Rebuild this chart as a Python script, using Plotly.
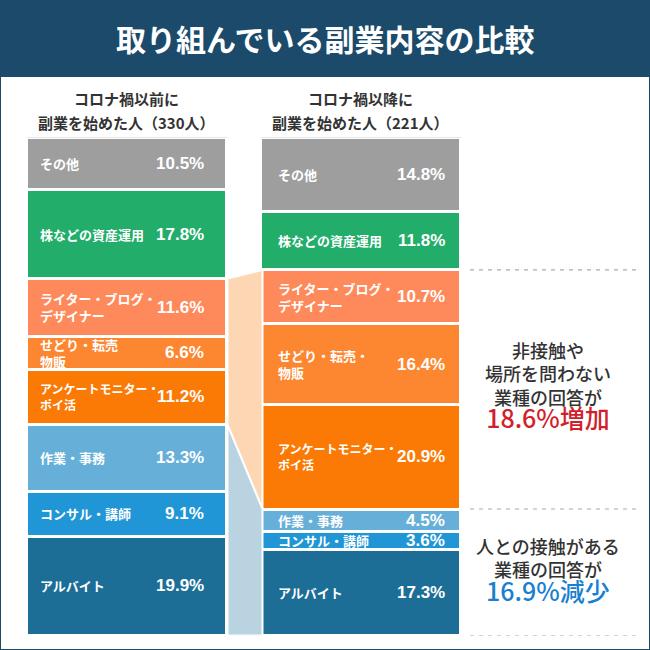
import plotly.graph_objects as go

W, H = 650, 650

categories = ["その他", "株などの資産運用", "ライター・ブログ・デザイナー", "せどり・転売・物販",
              "アンケートモニター・ポイ活", "作業・事務", "コンサル・講師", "アルバイト"]
labels_before = ["その他", "株などの資産運用", "ライター・ブログ・<br>デザイナー", "せどり・転売<br>物販",
                 "アンケートモニター・<br>ポイ活", "作業・事務", "コンサル・講師", "アルバイト"]
labels_after = ["その他", "株などの資産運用", "ライター・ブログ・<br>デザイナー", "せどり・転売・<br>物販",
                "アンケートモニター・<br>ポイ活", "作業・事務", "コンサル・講師", "アルバイト"]
before = [10.5, 17.8, 11.6, 6.6, 11.2, 13.3, 9.1, 19.9]
after = [14.8, 11.8, 10.7, 16.4, 20.9, 4.5, 3.6, 17.3]
colors = ["#9e9e9e", "#22ad6b", "#fe8a5b", "#fd8630", "#fb7a05", "#66afd9", "#2196d6", "#1c6e97"]

title = "取り組んでいる副業内容の比較"
head_before = ["コロナ禍以前に", "副業を始めた人（330人）"]
head_after = ["コロナ禍以降に", "副業を始めた人（221人）"]
note_up = ["非接触や", "場所を問わない", "業種の回答が"]
note_up_val = "18.6%増加"
note_down = ["人との接触がある", "業種の回答が"]
note_down_val = "16.9%減少"

grp_up = [2, 3, 4]
grp_down = [5, 6, 7]

BX1, BX2, BW = 126.5, 360.5, 200
LINE_W = 3
TOP_PX, BOT_PX = 137.5, 635.5

JP = "Noto Sans CJK JP"
NUM = "Liberation Sans, Noto Sans CJK JP"
label_sizes = [13, 13, 13, 13, 12, 13, 13, 13]


def cum(vals):
    out, s = [], 0.0
    for v in vals:
        out.append(s)
        s += v
    return out, s


cb, _ = cum(before)
ca, _ = cum(after)

fig = go.Figure()

bx_l, bx_r = BX1 + BW / 2 + 1, BX2 - BW / 2 + 2
for grp, col in [(grp_up, "#fdd7b4"), (grp_down, "#b9d3e1")]:
    lt = cb[grp[0]]
    lb = cb[grp[-1]] + before[grp[-1]]
    rt = ca[grp[0]]
    rb = ca[grp[-1]] + after[grp[-1]]
    fig.add_trace(go.Scatter(
        x=[bx_l, bx_r, bx_r, bx_l, bx_l], y=[lt, rt, rb, lb, lt],
        mode="lines", fill="toself", fillcolor=col,
        line=dict(color="white", width=2), hoverinfo="skip", showlegend=False))

for i, c in enumerate(categories):
    fig.add_trace(go.Bar(
        x=[BX1, BX2], y=[before[i], after[i]], width=[BW, BW],
        marker=dict(color=colors[i], line=dict(color="white", width=LINE_W)),
        name=c, hoverinfo="skip", showlegend=False))

ann = []


def pap(ypx):
    return 1 - ypx / H


for (vals, cs, labs, xl, xr) in [(before, cb, labels_before, 38, 206),
                                  (after, ca, labels_after, 276, 447)]:
    for i in range(len(vals)):
        ym = cs[i] + vals[i] / 2
        ann.append(dict(x=xl, y=ym, xref="x", yref="y", text="<b>%s</b>" % labs[i],
                        showarrow=False, xanchor="left", yanchor="middle", align="left",
                        font=dict(family=JP, size=label_sizes[i], color="white")))
        ann.append(dict(x=xr, y=ym, xref="x", yref="y", text="<b>%.1f%%</b>" % vals[i],
                        showarrow=False, xanchor="right", yanchor="middle",
                        font=dict(family=NUM, size=17, color="white")))

for cx, lines in [(BX1, head_before), (BX2, head_after)]:
    for k, t in enumerate(lines):
        ann.append(dict(x=cx / W, y=pap(98 + 24 * k), xref="paper", yref="paper",
                        text="<b>%s</b>" % t, showarrow=False, xanchor="center", yanchor="middle",
                        font=dict(family=JP, size=15, color="#333333")))

ann.append(dict(x=326 / W, y=pap(38), xref="paper", yref="paper", text="<b>%s</b>" % title,
                showarrow=False, xanchor="center", yanchor="middle",
                font=dict(family=JP, size=30, color="white")))

NX = 548
up_text = "<br>".join(note_up) + "<br><span style='font-size:25px;color:#d21f2b'>%s</span>" % note_up_val
down_text = "<br>".join(note_down) + "<br><span style='font-size:25px;color:#1a7fd0'>%s</span>" % note_down_val
ann.append(dict(x=NX / W, y=pap(386), xref="paper", yref="paper", text=up_text,
                showarrow=False, xanchor="center", yanchor="middle", align="center",
                font=dict(family=JP, size=18, color="#333333", weight=500)))
ann.append(dict(x=NX / W, y=pap(570), xref="paper", yref="paper", text=down_text,
                showarrow=False, xanchor="center", yanchor="middle", align="center",
                font=dict(family=JP, size=18, color="#333333", weight=500)))

shapes = [
    dict(type="rect", xref="paper", yref="paper", x0=0, x1=1, y0=pap(77), y1=1,
         fillcolor="#1b4a6b", line=dict(width=0), layer="below"),
    dict(type="rect", xref="paper", yref="paper", x0=0, x1=1, y0=0, y1=1,
         fillcolor="rgba(0,0,0,0)", line=dict(color="#1b4a6b", width=2)),
]
for yv in [ca[grp_up[0]], ca[grp_down[0]], ca[grp_down[-1]] + after[grp_down[-1]]]:
    shapes.append(dict(type="line", xref="x", yref="y", x0=470, x1=636, y0=yv, y1=yv,
                       line=dict(color="#aaaaaa", width=1.2, dash="4px,5px")))

fig.update_layout(
    width=W, height=H, margin=dict(l=0, r=0, t=0, b=0),
    paper_bgcolor="white", plot_bgcolor="rgba(0,0,0,0)",
    barmode="stack", bargap=0,
    xaxis=dict(range=[0, W], visible=False, fixedrange=True),
    yaxis=dict(range=[100, 0], visible=False, fixedrange=True,
               domain=[(H - BOT_PX) / H, (H - TOP_PX) / H]),
    annotations=ann, shapes=shapes,
)

fig.write_html("out.html", config={"displayModeBar": False},
               post_script="document.body.style.margin='0';document.body.style.overflow='hidden';")
